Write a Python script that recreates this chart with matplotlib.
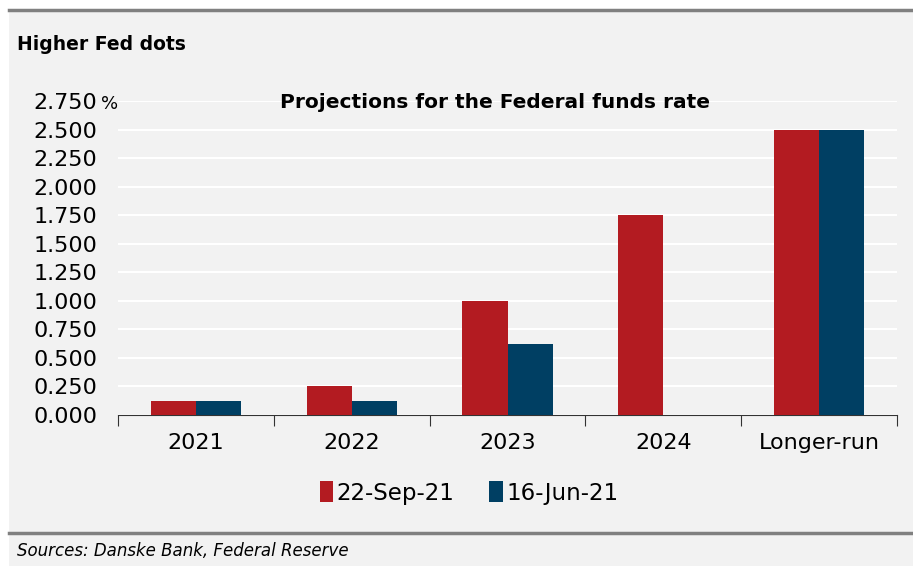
import numpy as np
import matplotlib.pyplot as plt
from matplotlib.patches import Rectangle
from matplotlib.lines import Line2D

categories = ['2021', '2022', '2023', '2024', 'Longer-run']
sep_21 = [0.125, 0.25, 1.0, 1.75, 2.5]
jun_21 = [0.125, 0.125, 0.625, np.nan, 2.5]
series_labels = ['22-Sep-21', '16-Jun-21']
y_ticks = [0.0, 0.25, 0.5, 0.75, 1.0, 1.25, 1.5, 1.75, 2.0, 2.25, 2.5, 2.75]

RED = '#b31b21'
BLUE = '#003f63'
PANEL = '#f2f2f2'
W, H = 913, 566

plt.rcParams['font.family'] = ['DejaVu Sans']

fig = plt.figure(figsize=(W / 100, H / 100), dpi=100)
fig.patch.set_facecolor('white')

# grey panel with a heavy rule on top and above the footer
fig.patches.append(Rectangle((9 / W, 0), 1 - 9 / W, 1 - 10 / H,
                             transform=fig.transFigure, facecolor=PANEL,
                             edgecolor='none', zorder=-10))
for yy in (10, 533):
    fig.lines.append(Line2D([9 / W, 1], [1 - yy / H] * 2, transform=fig.transFigure,
                            color='#808080', lw=2.5))

ax = fig.add_axes([118 / W, 1 - 415 / H, (897 - 118) / W, (415 - 101) / H])
ax.set_facecolor(PANEL)

x = np.arange(len(categories))
bw = 0.29
ax.bar(x - bw / 2, sep_21, width=bw, color=RED, label=series_labels[0], zorder=3)
ax.bar(x + bw / 2, jun_21, width=bw, color=BLUE, label=series_labels[1], zorder=3)

ax.set_xlim(-0.5, len(categories) - 0.5)
ax.set_ylim(0, 2.75)
ax.set_yticks(y_ticks)
ax.set_yticklabels([f'{v:.3f}' for v in y_ticks], fontsize=16)
ax.tick_params(axis='y', length=0, pad=15)
ax.yaxis.grid(True, color='white', lw=1.5, zorder=0)
ax.set_axisbelow(True)

ax.set_xticks(x)
ax.set_xticklabels(categories, fontsize=16)
ax.tick_params(axis='x', which='major', length=0, pad=13)
ax.set_xticks(np.arange(-0.5, len(categories), 1), minor=True)
ax.tick_params(axis='x', which='minor', length=8, width=0.8, direction='out', color='#333333')

for side in ('top', 'right', 'left'):
    ax.spines[side].set_visible(False)
ax.spines['bottom'].set_color('#333333')

fig.text(101 / W, 1 - 104 / H, '%', fontsize=13, va='center', ha='left')
fig.text(17 / W, 1 - 45 / H, 'Higher Fed dots', fontsize=13.5, fontweight='bold', va='center')
fig.text(495 / W, 1 - 103 / H, 'Projections for the Federal funds rate',
         fontsize=14.5, fontweight='bold', ha='center', va='center')
fig.text(17 / W, 1 - 551 / H, 'Sources: Danske Bank, Federal Reserve',
         fontsize=12, style='italic', va='center')

fig.legend(loc='center', bbox_to_anchor=(469 / W, 1 - 493 / H), ncol=2, frameon=False,
           fontsize=16.5, handlelength=0.6, handleheight=1.0, handletextpad=0.15,
           columnspacing=1.5)

fig.savefig('out.png', dpi=100, facecolor=fig.get_facecolor())
